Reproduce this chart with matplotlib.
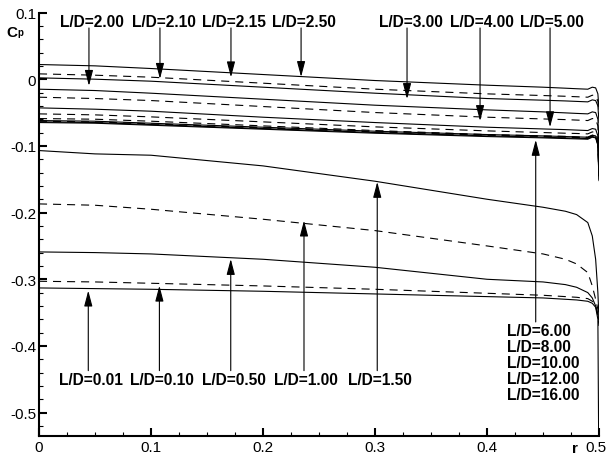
import matplotlib
matplotlib.use("Agg")
import matplotlib.pyplot as plt
from matplotlib.ticker import MultipleLocator, FuncFormatter

plt.rcParams['font.family'] = ['Liberation Sans', 'DejaVu Sans']
plt.rcParams['axes.unicode_minus'] = False
plt.rcParams['lines.scale_dashes'] = False

# radial stations shared by every curve
r = [0, 0.05, 0.1, 0.2, 0.3, 0.4, 0.45, 0.47, 0.48, 0.49, 0.494, 0.497, 0.499, 0.5]

# pressure coefficient along the radius, one list per L/D
cp_001 = [-0.313, -0.314, -0.315, -0.318, -0.322, -0.326, -0.328, -0.330, -0.331, -0.333, -0.336, -0.342, -0.360, -0.620]
cp_010 = [-0.303, -0.304, -0.306, -0.310, -0.315, -0.321, -0.324, -0.326, -0.327, -0.329, -0.333, -0.340, -0.355, -0.370]
cp_050 = [-0.259, -0.260, -0.262, -0.270, -0.282, -0.300, -0.304, -0.308, -0.312, -0.320, -0.328, -0.340, -0.352, -0.365]
cp_100 = [-0.187, -0.189, -0.195, -0.210, -0.227, -0.250, -0.262, -0.270, -0.277, -0.290, -0.310, -0.330, -0.345, -0.360]
cp_150 = [-0.107, -0.112, -0.114, -0.130, -0.153, -0.180, -0.192, -0.198, -0.203, -0.215, -0.235, -0.270, -0.320, -0.360]
cp_210 = [0.022, 0.020, 0.016, 0.007, -0.002, -0.009, -0.012, -0.0135, -0.0143, -0.015, -0.012, -0.013, -0.022, -0.045]
cp_215 = [0.008, 0.006, 0.003, -0.006, -0.015, -0.022, -0.0245, -0.0256, -0.0263, -0.027, -0.024, -0.025, -0.033, -0.055]
cp_250 = [0.002, 0.000, -0.003, -0.012, -0.021, -0.029, -0.0315, -0.0326, -0.0333, -0.034, -0.031, -0.032, -0.040, -0.065]
cp_200 = [-0.015, -0.017, -0.021, -0.030, -0.039, -0.046, -0.049, -0.0505, -0.0513, -0.052, -0.049, -0.050, -0.060, -0.095]
cp_300 = [-0.027, -0.029, -0.032, -0.041, -0.050, -0.057, -0.0596, -0.0606, -0.0613, -0.062, -0.059, -0.060, -0.070, -0.110]
cp_400 = [-0.043, -0.045, -0.048, -0.057, -0.065, -0.072, -0.0746, -0.0756, -0.0763, -0.077, -0.074, -0.075, -0.085, -0.120]
cp_500 = [-0.052, -0.0535, -0.0565, -0.064, -0.0715, -0.0775, -0.080, -0.081, -0.0814, -0.082, -0.079, -0.080, -0.090, -0.130]
cp_600 = [-0.059, -0.060, -0.063, -0.070, -0.077, -0.083, -0.085, -0.0857, -0.0865, -0.087, -0.084, -0.085, -0.095, -0.140]
cp_800 = [-0.062, -0.063, -0.066, -0.072, -0.078, -0.083, -0.085, -0.086, -0.0865, -0.087, -0.084, -0.085, -0.096, -0.145]
cp_1000 = [-0.063, -0.064, -0.067, -0.073, -0.079, -0.084, -0.086, -0.087, -0.0875, -0.088, -0.085, -0.086, -0.097, -0.148]
cp_1200 = [-0.064, -0.065, -0.068, -0.074, -0.080, -0.085, -0.087, -0.088, -0.0885, -0.089, -0.086, -0.087, -0.098, -0.150]
cp_1600 = [-0.065, -0.066, -0.069, -0.075, -0.081, -0.086, -0.088, -0.089, -0.0895, -0.090, -0.087, -0.088, -0.099, -0.152]

curves = [cp_001, cp_010, cp_050, cp_100, cp_150, cp_210, cp_215, cp_250, cp_200,
          cp_300, cp_400, cp_500, cp_600, cp_800, cp_1000, cp_1200, cp_1600]
dashed = [False, True, False, True, False, False, True, False, False,
          True, False, True, True, False, True, False, False]

# labels with arrows: (text, text x, arrow x, arrow tip Cp)
top_labels = ["L/D=2.00", "L/D=2.10", "L/D=2.15", "L/D=2.50", "L/D=3.00", "L/D=4.00", "L/D=5.00"]
top_text_x = [0.0469, 0.1116, 0.1741, 0.2366, 0.332, 0.3955, 0.458]
top_arrow_x = [0.0446, 0.108, 0.1714, 0.234, 0.3286, 0.3938, 0.4563]
top_tip = [-0.010, 0.0005, 0.0028, 0.0033, -0.0297, -0.0627, -0.072]

bot_labels = ["L/D=0.01", "L/D=0.10", "L/D=0.50", "L/D=1.00", "L/D=1.50"]
bot_text_x = [0.0465, 0.1095, 0.1744, 0.238, 0.3045]
bot_arrow_x = [0.044, 0.1075, 0.1712, 0.2366, 0.302]
bot_tip = [-0.317, -0.3096, -0.2696, -0.212, -0.154]

right_labels = ["L/D=6.00", "L/D=8.00", "L/D=10.00", "L/D=12.00", "L/D=16.00"]

fig = plt.figure(figsize=(6.08, 4.56), dpi=100)
ax = fig.add_axes([39 / 608, 1 - 437 / 456, 560 / 608, (437 - 13.5) / 456])

for cp, dsh in zip(curves, dashed):
    if dsh:
        ax.plot(r, cp, color='black', lw=0.8, dashes=(5.8, 4.3))
    else:
        ax.plot(r, cp, color='black', lw=0.8)

ax.set_xlim(0, 0.5)
ax.set_ylim(-0.535, 0.1)

for s in ['top', 'right']:
    ax.spines[s].set_visible(False)
for s in ['left', 'bottom']:
    ax.spines[s].set_linewidth(1.5)

ax.xaxis.set_major_locator(MultipleLocator(0.1))
ax.xaxis.set_minor_locator(MultipleLocator(0.025))
ax.yaxis.set_major_locator(MultipleLocator(0.1))
ax.yaxis.set_minor_locator(MultipleLocator(0.02))
# the 0.5 label sits on the figure edge, it is drawn separately below
ax.xaxis.set_major_formatter(FuncFormatter(lambda v, p: '' if v > 0.49 else '%g' % round(v, 3)))
ax.yaxis.set_major_formatter(FuncFormatter(lambda v, p: '%g' % round(v, 3)))
ax.tick_params(which='major', direction='in', length=6, width=1.5, labelsize=11, pad=3)
ax.tick_params(which='minor', direction='in', length=3, width=0.8)
ax.tick_params(axis='y', which='major', pad=2)
ax.annotate('0.5', xy=(0.5, 0), xycoords=('data', 'axes fraction'), xytext=(-2.5, -3),
            textcoords='offset points', ha='center', va='top', fontsize=11,
            annotation_clip=False)

arrow = dict(arrowstyle='-|>,head_length=0.95,head_width=0.25', color='black', lw=0.8,
             mutation_scale=10, shrinkA=0, shrinkB=0)
lab = dict(fontsize=11.2, fontweight='bold', ha='center', va='center')

for t, tx, axx, tip in zip(top_labels, top_text_x, top_arrow_x, top_tip):
    ax.text(tx, 0.0865, t, **lab)
    ax.annotate('', xy=(axx, tip), xytext=(axx, 0.0768), arrowprops=arrow)

for t, tx, axx, tip in zip(bot_labels, bot_text_x, bot_arrow_x, bot_tip):
    ax.text(tx, -0.451, t, **lab)
    ax.annotate('', xy=(axx, tip), xytext=(axx, -0.437), arrowprops=arrow)

for i, t in enumerate(right_labels):
    ax.text(0.4176, -0.377 - i * 0.0239, t, fontsize=11.2, fontweight='bold',
            ha='left', va='center')
ax.annotate('', xy=(0.4435, -0.091), xytext=(0.4435, -0.364), arrowprops=arrow)

fig.text(6.7 / 608, 1 - 36.7 / 456, 'C', fontsize=11, fontweight='bold', ha='left', va='baseline')
fig.text(17.3 / 608, 1 - 36.5 / 456, 'p', fontsize=7, fontweight='bold', ha='left', va='baseline')
fig.text(575 / 608, 1 - 453.5 / 456, 'r', fontsize=11, fontweight='bold', ha='center', va='baseline')

fig.savefig('out.png', dpi=100)
